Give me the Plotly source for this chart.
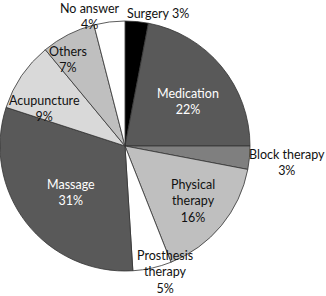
import plotly.graph_objects as go

categories = ["Surgery", "Medication", "Block therapy", "Physical therapy",
              "Prosthesis therapy", "Massage", "Acupuncture", "Others", "No answer"]
values = [3, 22, 3, 16, 5, 31, 9, 7, 4]
label_text = ["Surgery 3%", "Medication<br>22%", "Block therapy<br>3%",
              "Physical<br>therapy<br>16%", "Prosthesis<br>therapy<br>5%",
              "Massage<br>31%", "Acupuncture<br>9%", "Others<br>7%", "No answer<br>4%"]

colors = ["#000000", "#595959", "#7f7f7f", "#bfbfbf", "#ffffff",
          "#595959", "#d9d9d9", "#bfbfbf", "#ffffff"]
text_colors = ["#111111", "white", "#111111", "#111111", "#111111", "white",
               "#111111", "#111111", "#111111"]
# label centre positions in pixels (layout only)
label_px = [(158, 14), (188, 101), (287, 162), (193, 201), (165, 272),
            (71, 193), (44, 108), (68, 59), (90, 16)]

W, H = 326, 296
fig = go.Figure(go.Pie(
    labels=categories, values=values, sort=False, direction="clockwise",
    rotation=0, textinfo="none", hoverinfo="label+percent",
    marker=dict(colors=colors, line=dict(color="#333333", width=0.8)),
    domain=dict(x=[0, 250 / W], y=[25 / H, 275 / H]),
    showlegend=False,
))

for txt, (px, py), c in zip(label_text, label_px, text_colors):
    fig.add_annotation(x=px / W, y=1 - py / H, xref="paper", yref="paper",
                       text=txt, showarrow=False, xanchor="center", yanchor="middle",
                       font=dict(family="Lato", size=12.5, color=c))

fig.update_layout(width=W, height=H, margin=dict(l=0, r=0, t=0, b=0),
                  paper_bgcolor="white", plot_bgcolor="white")
fig.write_html("out.html", config={"displayModeBar": False},
               post_script="document.body.style.margin='0';document.body.style.overflow='hidden';")
